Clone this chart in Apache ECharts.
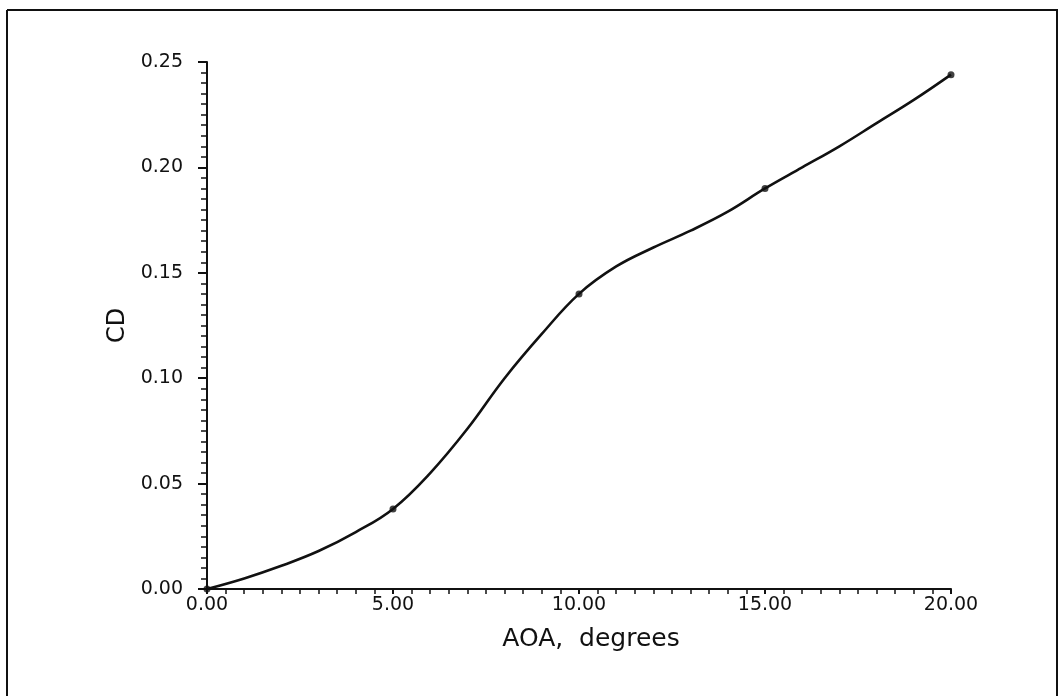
<!DOCTYPE html>
<html>
<head>
<meta charset="utf-8">
<script src="https://cdn.jsdelivr.net/npm/echarts@6/dist/echarts.min.js"></script>
<style>
html,body{margin:0;padding:0;background:#fff;}
#c{width:1058px;height:696px;}
</style>
</head>
<body>
<div id="c"></div>
<script>
// Curve at every degree of AOA
const aoa = [0,1,2,3,4,5,6,7,8,9,10,11,12,13,14,15,16,17,18,19,20];
const cd  = [0.000,0.005,0.011,0.018,0.027,0.038,0.055,0.076,0.100,0.121,0.140,0.153,0.162,0.170,0.179,0.190,0.200,0.210,0.221,0.232,0.244];
// Marked data points
const markAoa = [0,5,10,15,20];
const markCd  = [0.000,0.038,0.140,0.190,0.244];
const xName = 'AOA,  degrees';
const yName = 'CD';

const chart = echarts.init(document.getElementById('c'), null, {renderer:'canvas'});
const font = 'DejaVu Sans';
chart.setOption({
  animation:false,
  backgroundColor:'#fff',
  grid:{left:207,right:107,top:62,bottom:107,containLabel:false},
  xAxis:{
    type:'value',min:0,max:20,interval:5,
    name:xName,nameLocation:'middle',nameGap:38,
    nameTextStyle:{fontFamily:font,fontSize:25,color:'#111',padding:[0,0,0,24]},
    axisLine:{show:true,onZero:false,lineStyle:{color:'#111',width:2}},
    axisTick:{show:true,inside:false,length:5,lineStyle:{color:'#111',width:2}},
    minorTick:{show:true,splitNumber:10,length:5,lineStyle:{color:'#111',width:1.5}},
    axisLabel:{fontFamily:font,fontSize:19,color:'#111',margin:7,formatter:v=>v.toFixed(2)},
    splitLine:{show:false}
  },
  yAxis:{
    type:'value',min:0,max:0.25,interval:0.05,
    name:yName,nameLocation:'middle',nameGap:64,nameRotate:90,
    nameTextStyle:{fontFamily:font,fontSize:24,color:'#111'},
    axisLine:{show:true,onZero:false,lineStyle:{color:'#111',width:2}},
    axisTick:{show:true,inside:false,length:9,lineStyle:{color:'#111',width:2}},
    minorTick:{show:true,splitNumber:10,length:6,lineStyle:{color:'#111',width:1.5}},
    axisLabel:{fontFamily:font,fontSize:19,color:'#111',margin:24,formatter:v=>v.toFixed(2)},
    splitLine:{show:false}
  },
  series:[
    {type:'line',data:aoa.map((x,i)=>[x,cd[i]]),smooth:0.4,showSymbol:false,
     lineStyle:{color:'#111',width:2.6},z:2},
    {type:'scatter',data:markAoa.map((x,i)=>[x,markCd[i]]),symbol:'circle',symbolSize:7,
     itemStyle:{color:'#111'},z:3}
  ],
  graphic:[
    {type:'line',shape:{x1:7,y1:10,x2:7,y2:696},style:{stroke:'#111',lineWidth:2}},
    {type:'line',shape:{x1:7,y1:10,x2:1058,y2:10},style:{stroke:'#111',lineWidth:2}},
    {type:'line',shape:{x1:1057,y1:10,x2:1057,y2:696},style:{stroke:'#111',lineWidth:2}}
  ]
});
</script>
</body>
</html>
